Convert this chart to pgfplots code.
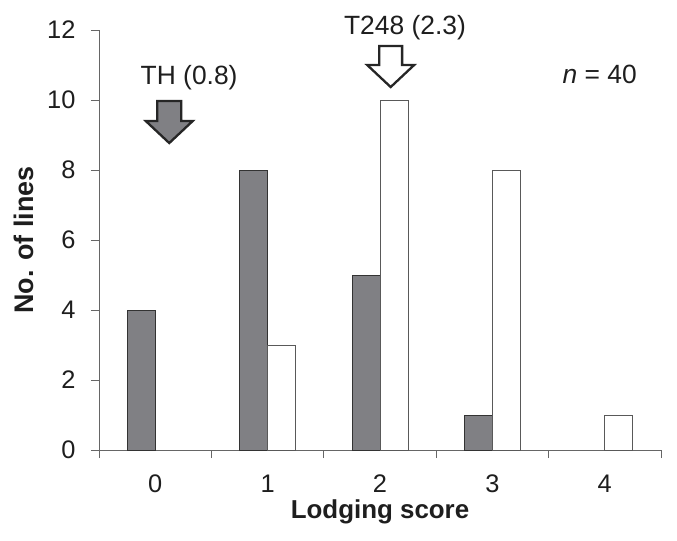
\documentclass[border=0pt]{standalone}
\usepackage{pgfplots}
\pgfplotsset{compat=1.18}
\usepackage{fontspec}
\setmainfont{Liberation Sans}
\definecolor{barg}{RGB}{128,128,132}
\definecolor{txt}{RGB}{30,30,30}
\begin{document}
\begin{tikzpicture}
\begin{axis}[
  scale only axis, width=562bp, height=420bp,
  xmin=-0.5, xmax=4.5, ymin=0, ymax=12,
  axis lines=left,
  axis line style={-, draw=black!60, line width=0.9bp},
  ytick={0,2,...,12},
  xtick={0,1,2,3,4},
  minor xtick={-0.5,0.5,1.5,2.5,3.5,4.5},
  tick align=outside,
  major tick length=8bp, minor tick length=8bp,
  tick style={draw=black!60, line width=0.9bp},
  major x tick style={draw=none},
  /pgf/number format/assume math mode=true,
  ticklabel style={font=\fontsize{25.5}{30}\selectfont, text=txt},
  yticklabel style={anchor=east, xshift=-12bp},
  xticklabel style={anchor=base, yshift=-34bp},
  xlabel={Lodging score},
  ylabel={No. of lines},
  xlabel style={font=\bfseries\fontsize{26}{30}\selectfont, text=txt, at={(axis description cs:0.5,-0.162)}, anchor=base},
  ylabel style={font=\bfseries\fontsize{27}{30}\selectfont, text=txt, at={(axis description cs:-0.117,0.5)}, anchor=base, rotate=0},
  clip=false,
]
\addplot[ybar, bar width=28bp, bar shift=-14bp, fill=barg, draw=black!80, line width=0.9bp] coordinates {(0,4) (1,8) (2,5) (3,1)};
\addplot[ybar, bar width=28bp, bar shift=14bp, fill=white, draw=black!65, line width=0.9bp] coordinates {(1,3) (2,10) (3,8) (4,1)};
\draw[line width=2.3bp, draw=black!85, fill=barg, line join=miter]
  (axis cs:0.018,9.97) -- (axis cs:0.232,9.97) -- (axis cs:0.232,9.4) -- (axis cs:0.334,9.4)
  -- (axis cs:0.125,8.77) -- (axis cs:-0.084,9.4) -- (axis cs:0.018,9.4) -- cycle;
\draw[line width=2.3bp, draw=black!85, fill=white, line join=miter]
  (axis cs:1.993,11.54) -- (axis cs:2.197,11.54) -- (axis cs:2.197,11.0) -- (axis cs:2.304,11.0)
  -- (axis cs:2.095,10.37) -- (axis cs:1.886,11.0) -- (axis cs:1.993,11.0) -- cycle;
\node[anchor=base, font=\fontsize{26.5}{30}\selectfont, text=txt, inner sep=0pt] at (axis cs:0.302,10.43) {TH (0.8)};
\node[anchor=base, font=\fontsize{26.5}{30}\selectfont, text=txt, inner sep=0pt] at (axis cs:2.222,11.88) {T248 (2.3)};
\node[anchor=base, font=\fontsize{26.5}{30}\selectfont, text=txt, inner sep=0pt] at (axis cs:3.955,10.48) {\textit{n} = 40};
\end{axis}
\pgfresetboundingbox
\path ([shift={(-99bp,-90bp)}]current axis.south west) rectangle ([shift={(16bp,30bp)}]current axis.north east);
\end{tikzpicture}
\end{document}
